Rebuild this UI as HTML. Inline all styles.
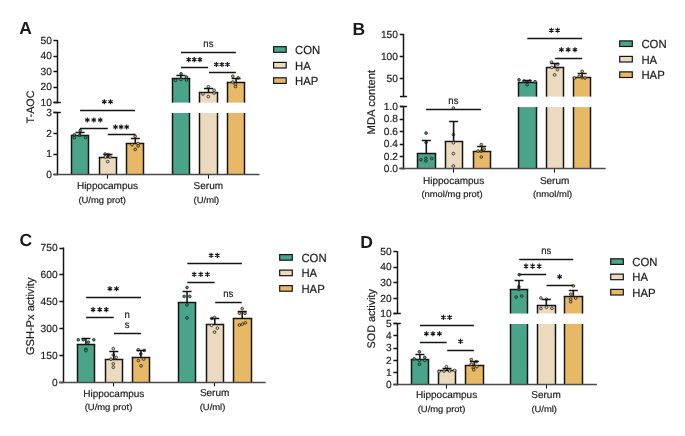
<!DOCTYPE html>
<html><head><meta charset="utf-8"><style>
html,body{margin:0;padding:0;background:#fff;}
body{width:685px;height:436px;overflow:hidden;}
svg{display:block;will-change:transform;text-rendering:geometricPrecision;font-family:"Liberation Sans", sans-serif;}
</style></head><body>
<svg width="685" height="436" viewBox="0 0 685 436">
<rect width="685" height="436" fill="#fff"/>
<text transform="translate(19.20,34.10)" font-size="17.5" text-anchor="start" font-weight="bold" fill="#1b1b1b" stroke="#1b1b1b" stroke-width="0">A</text>
<line x1="57.50" y1="39.90" x2="57.50" y2="103.30" stroke="#141414" stroke-width="1.5"/>
<line x1="53.70" y1="102.50" x2="60.80" y2="102.50" stroke="#141414" stroke-width="1.5"/>
<line x1="57.50" y1="112.10" x2="57.50" y2="175.30" stroke="#141414" stroke-width="1.5"/>
<line x1="53.70" y1="112.50" x2="60.80" y2="112.50" stroke="#141414" stroke-width="1.5"/>
<line x1="53.40" y1="40.50" x2="57.00" y2="40.50" stroke="#141414" stroke-width="1.5"/>
<line x1="53.40" y1="56.50" x2="57.00" y2="56.50" stroke="#141414" stroke-width="1.5"/>
<line x1="53.40" y1="71.50" x2="57.00" y2="71.50" stroke="#141414" stroke-width="1.5"/>
<line x1="53.40" y1="87.50" x2="57.00" y2="87.50" stroke="#141414" stroke-width="1.5"/>
<line x1="53.40" y1="102.50" x2="57.00" y2="102.50" stroke="#141414" stroke-width="1.5"/>
<line x1="53.40" y1="112.50" x2="57.00" y2="112.50" stroke="#141414" stroke-width="1.5"/>
<line x1="53.40" y1="133.50" x2="57.00" y2="133.50" stroke="#141414" stroke-width="1.5"/>
<line x1="53.40" y1="154.50" x2="57.00" y2="154.50" stroke="#141414" stroke-width="1.5"/>
<line x1="53.40" y1="174.50" x2="57.00" y2="174.50" stroke="#141414" stroke-width="1.5"/>
<text transform="translate(51.90,43.75) scale(0.99,1)" font-size="10.3" text-anchor="end" font-weight="normal" fill="#1b1b1b" stroke="#1b1b1b" stroke-width="0.18">50</text>
<text transform="translate(51.90,59.30) scale(0.99,1)" font-size="10.3" text-anchor="end" font-weight="normal" fill="#1b1b1b" stroke="#1b1b1b" stroke-width="0.18">40</text>
<text transform="translate(51.90,74.85) scale(0.99,1)" font-size="10.3" text-anchor="end" font-weight="normal" fill="#1b1b1b" stroke="#1b1b1b" stroke-width="0.18">30</text>
<text transform="translate(51.90,90.40) scale(0.99,1)" font-size="10.3" text-anchor="end" font-weight="normal" fill="#1b1b1b" stroke="#1b1b1b" stroke-width="0.18">20</text>
<text transform="translate(51.90,105.95) scale(0.99,1)" font-size="10.3" text-anchor="end" font-weight="normal" fill="#1b1b1b" stroke="#1b1b1b" stroke-width="0.18">10</text>
<text transform="translate(51.90,115.95) scale(0.99,1)" font-size="10.3" text-anchor="end" font-weight="normal" fill="#1b1b1b" stroke="#1b1b1b" stroke-width="0.18">3</text>
<text transform="translate(51.90,136.65) scale(0.99,1)" font-size="10.3" text-anchor="end" font-weight="normal" fill="#1b1b1b" stroke="#1b1b1b" stroke-width="0.18">2</text>
<text transform="translate(51.90,157.25) scale(0.99,1)" font-size="10.3" text-anchor="end" font-weight="normal" fill="#1b1b1b" stroke="#1b1b1b" stroke-width="0.18">1</text>
<text transform="translate(51.90,177.95) scale(0.99,1)" font-size="10.3" text-anchor="end" font-weight="normal" fill="#1b1b1b" stroke="#1b1b1b" stroke-width="0.18">0</text>
<line x1="107.50" y1="174.70" x2="107.50" y2="178.60" stroke="#141414" stroke-width="1.1"/>
<line x1="208.50" y1="174.70" x2="208.50" y2="178.60" stroke="#141414" stroke-width="1.1"/>
<rect x="71.50" y="135.50" width="17.00" height="39.00" fill="#4aa489"/>
<line x1="71.50" y1="135.50" x2="71.50" y2="174.50" stroke="#141414" stroke-width="1.5"/>
<line x1="88.50" y1="135.50" x2="88.50" y2="174.50" stroke="#141414" stroke-width="1.5"/>
<line x1="70.75" y1="135.50" x2="89.25" y2="135.50" stroke="#141414" stroke-width="1.5"/>
<circle cx="80.30" cy="130.40" r="1.35" fill="#409b7f" stroke="#1c1c1c" stroke-width="0.8"/>
<circle cx="74.40" cy="134.80" r="1.35" fill="#409b7f" stroke="#1c1c1c" stroke-width="0.8"/>
<circle cx="79.70" cy="135.30" r="1.35" fill="#409b7f" stroke="#1c1c1c" stroke-width="0.8"/>
<circle cx="74.40" cy="137.70" r="1.35" fill="#409b7f" stroke="#1c1c1c" stroke-width="0.8"/>
<circle cx="85.50" cy="137.70" r="1.35" fill="#409b7f" stroke="#1c1c1c" stroke-width="0.8"/>
<line x1="80.10" y1="135.50" x2="80.10" y2="132.40" stroke="#141414" stroke-width="1.6"/>
<line x1="75.60" y1="132.50" x2="84.60" y2="132.50" stroke="#141414" stroke-width="1.5"/>
<rect x="99.50" y="157.50" width="17.00" height="17.00" fill="#ebdabe"/>
<line x1="99.50" y1="157.50" x2="99.50" y2="174.50" stroke="#141414" stroke-width="1.5"/>
<line x1="116.50" y1="157.50" x2="116.50" y2="174.50" stroke="#141414" stroke-width="1.5"/>
<line x1="98.75" y1="157.50" x2="117.25" y2="157.50" stroke="#141414" stroke-width="1.5"/>
<circle cx="105.10" cy="154.00" r="1.35" fill="#ead8b8" stroke="#1c1c1c" stroke-width="0.8"/>
<circle cx="108.30" cy="154.60" r="1.35" fill="#ead8b8" stroke="#1c1c1c" stroke-width="0.8"/>
<circle cx="105.40" cy="157.00" r="1.35" fill="#ead8b8" stroke="#1c1c1c" stroke-width="0.8"/>
<circle cx="110.00" cy="157.00" r="1.35" fill="#ead8b8" stroke="#1c1c1c" stroke-width="0.8"/>
<circle cx="107.70" cy="161.60" r="1.35" fill="#ead8b8" stroke="#1c1c1c" stroke-width="0.8"/>
<line x1="108.00" y1="157.50" x2="108.00" y2="154.00" stroke="#141414" stroke-width="1.6"/>
<line x1="103.50" y1="154.50" x2="112.50" y2="154.50" stroke="#141414" stroke-width="1.5"/>
<rect x="126.50" y="143.50" width="17.00" height="31.00" fill="#e7b967"/>
<line x1="126.50" y1="143.50" x2="126.50" y2="174.50" stroke="#141414" stroke-width="1.5"/>
<line x1="143.50" y1="143.50" x2="143.50" y2="174.50" stroke="#141414" stroke-width="1.5"/>
<line x1="125.75" y1="143.50" x2="144.25" y2="143.50" stroke="#141414" stroke-width="1.5"/>
<circle cx="135.20" cy="136.30" r="1.35" fill="#e2b35c" stroke="#1c1c1c" stroke-width="0.8"/>
<circle cx="132.00" cy="144.70" r="1.35" fill="#e2b35c" stroke="#1c1c1c" stroke-width="0.8"/>
<circle cx="138.10" cy="143.50" r="1.35" fill="#e2b35c" stroke="#1c1c1c" stroke-width="0.8"/>
<circle cx="138.10" cy="145.90" r="1.35" fill="#e2b35c" stroke="#1c1c1c" stroke-width="0.8"/>
<circle cx="135.20" cy="149.40" r="1.35" fill="#e2b35c" stroke="#1c1c1c" stroke-width="0.8"/>
<line x1="135.30" y1="143.50" x2="135.30" y2="138.90" stroke="#141414" stroke-width="1.6"/>
<line x1="130.80" y1="138.50" x2="139.80" y2="138.50" stroke="#141414" stroke-width="1.5"/>
<rect x="172.50" y="78.50" width="17.00" height="24.10" fill="#4aa489"/>
<rect x="172.50" y="113.00" width="17.00" height="61.50" fill="#4aa489"/>
<line x1="172.50" y1="78.50" x2="172.50" y2="102.60" stroke="#141414" stroke-width="1.5"/>
<line x1="189.50" y1="78.50" x2="189.50" y2="102.60" stroke="#141414" stroke-width="1.5"/>
<line x1="172.50" y1="113.00" x2="172.50" y2="174.50" stroke="#141414" stroke-width="1.5"/>
<line x1="189.50" y1="113.00" x2="189.50" y2="174.50" stroke="#141414" stroke-width="1.5"/>
<line x1="171.75" y1="78.50" x2="190.25" y2="78.50" stroke="#141414" stroke-width="1.5"/>
<circle cx="181.10" cy="73.80" r="1.35" fill="#409b7f" stroke="#1c1c1c" stroke-width="0.8"/>
<circle cx="175.60" cy="80.30" r="1.35" fill="#409b7f" stroke="#1c1c1c" stroke-width="0.8"/>
<circle cx="180.90" cy="79.40" r="1.35" fill="#409b7f" stroke="#1c1c1c" stroke-width="0.8"/>
<circle cx="186.50" cy="77.10" r="1.35" fill="#409b7f" stroke="#1c1c1c" stroke-width="0.8"/>
<circle cx="186.50" cy="80.00" r="1.35" fill="#409b7f" stroke="#1c1c1c" stroke-width="0.8"/>
<line x1="180.90" y1="78.50" x2="180.90" y2="75.90" stroke="#141414" stroke-width="1.6"/>
<line x1="176.40" y1="75.50" x2="185.40" y2="75.50" stroke="#141414" stroke-width="1.5"/>
<rect x="199.50" y="92.50" width="18.00" height="10.10" fill="#ebdabe"/>
<rect x="199.50" y="113.00" width="18.00" height="61.50" fill="#ebdabe"/>
<line x1="199.50" y1="92.50" x2="199.50" y2="102.60" stroke="#141414" stroke-width="1.5"/>
<line x1="217.50" y1="92.50" x2="217.50" y2="102.60" stroke="#141414" stroke-width="1.5"/>
<line x1="199.50" y1="113.00" x2="199.50" y2="174.50" stroke="#141414" stroke-width="1.5"/>
<line x1="217.50" y1="113.00" x2="217.50" y2="174.50" stroke="#141414" stroke-width="1.5"/>
<line x1="198.75" y1="92.50" x2="218.25" y2="92.50" stroke="#141414" stroke-width="1.5"/>
<circle cx="208.30" cy="86.70" r="1.35" fill="#ead8b8" stroke="#1c1c1c" stroke-width="0.8"/>
<circle cx="214.10" cy="90.20" r="1.35" fill="#ead8b8" stroke="#1c1c1c" stroke-width="0.8"/>
<circle cx="203.00" cy="93.90" r="1.35" fill="#ead8b8" stroke="#1c1c1c" stroke-width="0.8"/>
<circle cx="214.10" cy="93.10" r="1.35" fill="#ead8b8" stroke="#1c1c1c" stroke-width="0.8"/>
<circle cx="208.30" cy="96.60" r="1.35" fill="#ead8b8" stroke="#1c1c1c" stroke-width="0.8"/>
<line x1="208.50" y1="92.50" x2="208.50" y2="88.80" stroke="#141414" stroke-width="1.6"/>
<line x1="204.00" y1="88.50" x2="213.00" y2="88.50" stroke="#141414" stroke-width="1.5"/>
<rect x="227.50" y="82.50" width="17.00" height="20.10" fill="#e7b967"/>
<rect x="227.50" y="113.00" width="17.00" height="61.50" fill="#e7b967"/>
<line x1="227.50" y1="82.50" x2="227.50" y2="102.60" stroke="#141414" stroke-width="1.5"/>
<line x1="244.50" y1="82.50" x2="244.50" y2="102.60" stroke="#141414" stroke-width="1.5"/>
<line x1="227.50" y1="113.00" x2="227.50" y2="174.50" stroke="#141414" stroke-width="1.5"/>
<line x1="244.50" y1="113.00" x2="244.50" y2="174.50" stroke="#141414" stroke-width="1.5"/>
<line x1="226.75" y1="82.50" x2="245.25" y2="82.50" stroke="#141414" stroke-width="1.5"/>
<circle cx="232.80" cy="76.20" r="1.35" fill="#e2b35c" stroke="#1c1c1c" stroke-width="0.8"/>
<circle cx="238.10" cy="77.90" r="1.35" fill="#e2b35c" stroke="#1c1c1c" stroke-width="0.8"/>
<circle cx="232.80" cy="82.00" r="1.35" fill="#e2b35c" stroke="#1c1c1c" stroke-width="0.8"/>
<circle cx="235.50" cy="84.40" r="1.35" fill="#e2b35c" stroke="#1c1c1c" stroke-width="0.8"/>
<circle cx="235.50" cy="86.50" r="1.35" fill="#e2b35c" stroke="#1c1c1c" stroke-width="0.8"/>
<line x1="236.10" y1="82.50" x2="236.10" y2="78.30" stroke="#141414" stroke-width="1.6"/>
<line x1="231.60" y1="78.50" x2="240.60" y2="78.50" stroke="#141414" stroke-width="1.5"/>
<line x1="53.30" y1="174.50" x2="259.50" y2="174.50" stroke="#4a4a4a" stroke-width="1.6"/>
<line x1="80.10" y1="110.50" x2="135.10" y2="110.50" stroke="#141414" stroke-width="1.5"/>
<path d="M104.30,99.25L104.30,104.35M102.09,100.52L106.51,103.08M106.51,100.52L102.09,103.08" stroke="#141414" stroke-width="1.15" fill="none"/>
<path d="M110.50,99.25L110.50,104.35M108.29,100.52L112.71,103.08M112.71,100.52L108.29,103.08" stroke="#141414" stroke-width="1.15" fill="none"/>
<line x1="79.90" y1="128.50" x2="107.80" y2="128.50" stroke="#141414" stroke-width="1.5"/>
<path d="M87.35,117.45L87.35,122.55M85.14,118.72L89.56,121.28M89.56,118.72L85.14,121.28" stroke="#141414" stroke-width="1.15" fill="none"/>
<path d="M93.80,117.45L93.80,122.55M91.59,118.72L96.01,121.28M96.01,118.72L91.59,121.28" stroke="#141414" stroke-width="1.15" fill="none"/>
<path d="M100.25,117.45L100.25,122.55M98.04,118.72L102.46,121.28M102.46,118.72L98.04,121.28" stroke="#141414" stroke-width="1.15" fill="none"/>
<line x1="107.80" y1="134.50" x2="135.60" y2="134.50" stroke="#141414" stroke-width="1.5"/>
<path d="M115.50,124.45L115.50,129.55M113.29,125.72L117.71,128.28M117.71,125.72L113.29,128.28" stroke="#141414" stroke-width="1.15" fill="none"/>
<path d="M121.10,124.45L121.10,129.55M118.89,125.72L123.31,128.28M123.31,125.72L118.89,128.28" stroke="#141414" stroke-width="1.15" fill="none"/>
<path d="M126.70,124.45L126.70,129.55M124.49,125.72L128.91,128.28M128.91,125.72L124.49,128.28" stroke="#141414" stroke-width="1.15" fill="none"/>
<line x1="181.00" y1="52.50" x2="235.90" y2="52.50" stroke="#141414" stroke-width="1.5"/>
<text transform="translate(208.40,46.90) scale(0.93,1)" font-size="10.3" text-anchor="middle" font-weight="normal" fill="#1b1b1b" stroke="#1b1b1b" stroke-width="0.18">ns</text>
<line x1="181.00" y1="67.50" x2="208.10" y2="67.50" stroke="#141414" stroke-width="1.5"/>
<path d="M188.70,57.05L188.70,62.15M186.49,58.33L190.91,60.88M190.91,58.33L186.49,60.88" stroke="#141414" stroke-width="1.15" fill="none"/>
<path d="M194.30,57.05L194.30,62.15M192.09,58.33L196.51,60.88M196.51,58.33L192.09,60.88" stroke="#141414" stroke-width="1.15" fill="none"/>
<path d="M199.90,57.05L199.90,62.15M197.69,58.33L202.11,60.88M202.11,58.33L197.69,60.88" stroke="#141414" stroke-width="1.15" fill="none"/>
<line x1="209.00" y1="72.50" x2="235.90" y2="72.50" stroke="#141414" stroke-width="1.5"/>
<path d="M216.30,61.95L216.30,67.05M214.09,63.23L218.51,65.78M218.51,63.23L214.09,65.78" stroke="#141414" stroke-width="1.15" fill="none"/>
<path d="M221.90,61.95L221.90,67.05M219.69,63.23L224.11,65.78M224.11,63.23L219.69,65.78" stroke="#141414" stroke-width="1.15" fill="none"/>
<path d="M227.50,61.95L227.50,67.05M225.29,63.23L229.71,65.78M229.71,63.23L225.29,65.78" stroke="#141414" stroke-width="1.15" fill="none"/>
<rect x="273.60" y="46.70" width="12.6" height="5.6" fill="#4aa489" stroke="#141414" stroke-width="1.2"/>
<text transform="translate(295.00,53.90) scale(0.97,1)" font-size="11.7" text-anchor="start" font-weight="normal" fill="#1b1b1b" stroke="#1b1b1b" stroke-width="0.18">CON</text>
<rect x="273.60" y="62.40" width="12.6" height="5.6" fill="#ebdabe" stroke="#141414" stroke-width="1.2"/>
<text transform="translate(295.00,69.60) scale(0.97,1)" font-size="11.7" text-anchor="start" font-weight="normal" fill="#1b1b1b" stroke="#1b1b1b" stroke-width="0.18">HA</text>
<rect x="273.60" y="77.80" width="12.6" height="5.6" fill="#e7b967" stroke="#141414" stroke-width="1.2"/>
<text transform="translate(295.00,85.00) scale(0.97,1)" font-size="11.7" text-anchor="start" font-weight="normal" fill="#1b1b1b" stroke="#1b1b1b" stroke-width="0.18">HAP</text>
<text transform="translate(107.50,189.10)" font-size="10.0" text-anchor="middle" font-weight="normal" fill="#1b1b1b" stroke="#1b1b1b" stroke-width="0.18">Hippocampus</text>
<text transform="translate(102.20,202.50) scale(1.07,1)" font-size="8.8" text-anchor="middle" font-weight="normal" fill="#1b1b1b" stroke="#1b1b1b" stroke-width="0.18">(U/mg prot)</text>
<text transform="translate(208.30,189.10)" font-size="10.0" text-anchor="middle" font-weight="normal" fill="#1b1b1b" stroke="#1b1b1b" stroke-width="0.18">Serum</text>
<text transform="translate(206.40,202.50) scale(1.07,1)" font-size="8.8" text-anchor="middle" font-weight="normal" fill="#1b1b1b" stroke="#1b1b1b" stroke-width="0.18">(U/ml)</text>
<text transform="translate(34.40,107.00) rotate(-90)" font-size="10.75" text-anchor="middle" font-weight="normal" fill="#1b1b1b" stroke="#1b1b1b" stroke-width="0.18">T-AOC</text>
<text transform="translate(352.60,34.50)" font-size="17.5" text-anchor="start" font-weight="bold" fill="#1b1b1b" stroke="#1b1b1b" stroke-width="0">B</text>
<line x1="403.50" y1="33.80" x2="403.50" y2="97.20" stroke="#141414" stroke-width="1.5"/>
<line x1="400.00" y1="96.50" x2="407.10" y2="96.50" stroke="#141414" stroke-width="1.5"/>
<line x1="403.50" y1="106.00" x2="403.50" y2="169.50" stroke="#141414" stroke-width="1.5"/>
<line x1="400.00" y1="106.50" x2="407.10" y2="106.50" stroke="#141414" stroke-width="1.5"/>
<line x1="399.70" y1="34.50" x2="403.30" y2="34.50" stroke="#141414" stroke-width="1.5"/>
<line x1="399.70" y1="56.50" x2="403.30" y2="56.50" stroke="#141414" stroke-width="1.5"/>
<line x1="399.70" y1="78.50" x2="403.30" y2="78.50" stroke="#141414" stroke-width="1.5"/>
<line x1="399.70" y1="106.50" x2="403.30" y2="106.50" stroke="#141414" stroke-width="1.5"/>
<line x1="399.70" y1="119.50" x2="403.30" y2="119.50" stroke="#141414" stroke-width="1.5"/>
<line x1="399.70" y1="131.50" x2="403.30" y2="131.50" stroke="#141414" stroke-width="1.5"/>
<line x1="399.70" y1="144.50" x2="403.30" y2="144.50" stroke="#141414" stroke-width="1.5"/>
<line x1="399.70" y1="156.50" x2="403.30" y2="156.50" stroke="#141414" stroke-width="1.5"/>
<line x1="399.70" y1="168.50" x2="403.30" y2="168.50" stroke="#141414" stroke-width="1.5"/>
<text transform="translate(397.90,37.65) scale(0.99,1)" font-size="10.3" text-anchor="end" font-weight="normal" fill="#1b1b1b" stroke="#1b1b1b" stroke-width="0.18">150</text>
<text transform="translate(397.90,59.85) scale(0.99,1)" font-size="10.3" text-anchor="end" font-weight="normal" fill="#1b1b1b" stroke="#1b1b1b" stroke-width="0.18">100</text>
<text transform="translate(397.90,82.05) scale(0.99,1)" font-size="10.3" text-anchor="end" font-weight="normal" fill="#1b1b1b" stroke="#1b1b1b" stroke-width="0.18">50</text>
<text transform="translate(397.90,109.85) scale(0.99,1)" font-size="10.3" text-anchor="end" font-weight="normal" fill="#1b1b1b" stroke="#1b1b1b" stroke-width="0.18">1.0</text>
<text transform="translate(397.90,122.35) scale(0.99,1)" font-size="10.3" text-anchor="end" font-weight="normal" fill="#1b1b1b" stroke="#1b1b1b" stroke-width="0.18">0.8</text>
<text transform="translate(397.90,134.75) scale(0.99,1)" font-size="10.3" text-anchor="end" font-weight="normal" fill="#1b1b1b" stroke="#1b1b1b" stroke-width="0.18">0.6</text>
<text transform="translate(397.90,147.25) scale(0.99,1)" font-size="10.3" text-anchor="end" font-weight="normal" fill="#1b1b1b" stroke="#1b1b1b" stroke-width="0.18">0.4</text>
<text transform="translate(397.90,159.65) scale(0.99,1)" font-size="10.3" text-anchor="end" font-weight="normal" fill="#1b1b1b" stroke="#1b1b1b" stroke-width="0.18">0.2</text>
<text transform="translate(397.90,172.15) scale(0.99,1)" font-size="10.3" text-anchor="end" font-weight="normal" fill="#1b1b1b" stroke="#1b1b1b" stroke-width="0.18">0.0</text>
<line x1="453.50" y1="168.90" x2="453.50" y2="172.60" stroke="#141414" stroke-width="1.1"/>
<line x1="554.50" y1="168.90" x2="554.50" y2="172.60" stroke="#141414" stroke-width="1.1"/>
<rect x="417.50" y="153.50" width="18.00" height="15.00" fill="#4aa489"/>
<line x1="417.50" y1="153.50" x2="417.50" y2="168.50" stroke="#141414" stroke-width="1.5"/>
<line x1="435.50" y1="153.50" x2="435.50" y2="168.50" stroke="#141414" stroke-width="1.5"/>
<line x1="416.75" y1="153.50" x2="436.25" y2="153.50" stroke="#141414" stroke-width="1.5"/>
<circle cx="426.10" cy="133.10" r="1.35" fill="#409b7f" stroke="#1c1c1c" stroke-width="0.8"/>
<circle cx="426.10" cy="142.40" r="1.35" fill="#409b7f" stroke="#1c1c1c" stroke-width="0.8"/>
<circle cx="420.90" cy="159.80" r="1.35" fill="#409b7f" stroke="#1c1c1c" stroke-width="0.8"/>
<circle cx="425.90" cy="158.30" r="1.35" fill="#409b7f" stroke="#1c1c1c" stroke-width="0.8"/>
<circle cx="425.90" cy="161.00" r="1.35" fill="#409b7f" stroke="#1c1c1c" stroke-width="0.8"/>
<circle cx="431.70" cy="158.50" r="1.35" fill="#409b7f" stroke="#1c1c1c" stroke-width="0.8"/>
<line x1="426.30" y1="153.50" x2="426.30" y2="140.60" stroke="#141414" stroke-width="1.6"/>
<line x1="421.80" y1="140.50" x2="430.80" y2="140.50" stroke="#141414" stroke-width="1.5"/>
<rect x="445.50" y="141.50" width="17.00" height="27.00" fill="#ebdabe"/>
<line x1="445.50" y1="141.50" x2="445.50" y2="168.50" stroke="#141414" stroke-width="1.5"/>
<line x1="462.50" y1="141.50" x2="462.50" y2="168.50" stroke="#141414" stroke-width="1.5"/>
<line x1="444.75" y1="141.50" x2="463.25" y2="141.50" stroke="#141414" stroke-width="1.5"/>
<circle cx="453.40" cy="108.00" r="1.35" fill="#ead8b8" stroke="#1c1c1c" stroke-width="0.8"/>
<circle cx="453.40" cy="134.70" r="1.35" fill="#ead8b8" stroke="#1c1c1c" stroke-width="0.8"/>
<circle cx="453.40" cy="142.80" r="1.35" fill="#ead8b8" stroke="#1c1c1c" stroke-width="0.8"/>
<circle cx="453.40" cy="153.60" r="1.35" fill="#ead8b8" stroke="#1c1c1c" stroke-width="0.8"/>
<circle cx="453.40" cy="166.00" r="1.35" fill="#ead8b8" stroke="#1c1c1c" stroke-width="0.8"/>
<line x1="453.60" y1="141.50" x2="453.60" y2="121.40" stroke="#141414" stroke-width="1.6"/>
<line x1="449.10" y1="121.50" x2="458.10" y2="121.50" stroke="#141414" stroke-width="1.5"/>
<rect x="473.50" y="151.50" width="17.00" height="17.00" fill="#e7b967"/>
<line x1="473.50" y1="151.50" x2="473.50" y2="168.50" stroke="#141414" stroke-width="1.5"/>
<line x1="490.50" y1="151.50" x2="490.50" y2="168.50" stroke="#141414" stroke-width="1.5"/>
<line x1="472.75" y1="151.50" x2="491.25" y2="151.50" stroke="#141414" stroke-width="1.5"/>
<circle cx="481.30" cy="144.60" r="1.35" fill="#e2b35c" stroke="#1c1c1c" stroke-width="0.8"/>
<circle cx="478.00" cy="151.10" r="1.35" fill="#e2b35c" stroke="#1c1c1c" stroke-width="0.8"/>
<circle cx="481.30" cy="151.10" r="1.35" fill="#e2b35c" stroke="#1c1c1c" stroke-width="0.8"/>
<circle cx="484.20" cy="149.20" r="1.35" fill="#e2b35c" stroke="#1c1c1c" stroke-width="0.8"/>
<circle cx="481.30" cy="157.00" r="1.35" fill="#e2b35c" stroke="#1c1c1c" stroke-width="0.8"/>
<line x1="481.70" y1="151.50" x2="481.70" y2="146.70" stroke="#141414" stroke-width="1.6"/>
<line x1="477.20" y1="146.50" x2="486.20" y2="146.50" stroke="#141414" stroke-width="1.5"/>
<rect x="518.50" y="82.50" width="18.00" height="14.10" fill="#4aa489"/>
<rect x="518.50" y="107.10" width="18.00" height="61.40" fill="#4aa489"/>
<line x1="518.50" y1="82.50" x2="518.50" y2="96.60" stroke="#141414" stroke-width="1.5"/>
<line x1="536.50" y1="82.50" x2="536.50" y2="96.60" stroke="#141414" stroke-width="1.5"/>
<line x1="518.50" y1="107.10" x2="518.50" y2="168.50" stroke="#141414" stroke-width="1.5"/>
<line x1="536.50" y1="107.10" x2="536.50" y2="168.50" stroke="#141414" stroke-width="1.5"/>
<line x1="517.75" y1="82.50" x2="537.25" y2="82.50" stroke="#141414" stroke-width="1.5"/>
<circle cx="519.00" cy="79.80" r="1.35" fill="#409b7f" stroke="#1c1c1c" stroke-width="0.8"/>
<circle cx="535.10" cy="81.70" r="1.35" fill="#409b7f" stroke="#1c1c1c" stroke-width="0.8"/>
<circle cx="527.10" cy="84.80" r="1.35" fill="#409b7f" stroke="#1c1c1c" stroke-width="0.8"/>
<circle cx="524.20" cy="81.00" r="1.35" fill="#409b7f" stroke="#1c1c1c" stroke-width="0.8"/>
<circle cx="529.80" cy="81.00" r="1.35" fill="#409b7f" stroke="#1c1c1c" stroke-width="0.8"/>
<line x1="527.10" y1="82.50" x2="527.10" y2="80.20" stroke="#141414" stroke-width="1.6"/>
<line x1="522.60" y1="80.50" x2="531.60" y2="80.50" stroke="#141414" stroke-width="1.5"/>
<rect x="546.50" y="67.50" width="17.00" height="29.10" fill="#ebdabe"/>
<rect x="546.50" y="107.10" width="17.00" height="61.40" fill="#ebdabe"/>
<line x1="546.50" y1="67.50" x2="546.50" y2="96.60" stroke="#141414" stroke-width="1.5"/>
<line x1="563.50" y1="67.50" x2="563.50" y2="96.60" stroke="#141414" stroke-width="1.5"/>
<line x1="546.50" y1="107.10" x2="546.50" y2="168.50" stroke="#141414" stroke-width="1.5"/>
<line x1="563.50" y1="107.10" x2="563.50" y2="168.50" stroke="#141414" stroke-width="1.5"/>
<line x1="545.75" y1="67.50" x2="564.25" y2="67.50" stroke="#141414" stroke-width="1.5"/>
<circle cx="551.50" cy="62.10" r="1.35" fill="#ead8b8" stroke="#1c1c1c" stroke-width="0.8"/>
<circle cx="557.70" cy="64.30" r="1.35" fill="#ead8b8" stroke="#1c1c1c" stroke-width="0.8"/>
<circle cx="551.90" cy="67.40" r="1.35" fill="#ead8b8" stroke="#1c1c1c" stroke-width="0.8"/>
<circle cx="557.40" cy="69.60" r="1.35" fill="#ead8b8" stroke="#1c1c1c" stroke-width="0.8"/>
<circle cx="554.60" cy="74.90" r="1.35" fill="#ead8b8" stroke="#1c1c1c" stroke-width="0.8"/>
<line x1="554.80" y1="67.50" x2="554.80" y2="63.10" stroke="#141414" stroke-width="1.6"/>
<line x1="550.30" y1="63.50" x2="559.30" y2="63.50" stroke="#141414" stroke-width="1.5"/>
<rect x="573.50" y="77.50" width="17.00" height="19.10" fill="#e7b967"/>
<rect x="573.50" y="107.10" width="17.00" height="61.40" fill="#e7b967"/>
<line x1="573.50" y1="77.50" x2="573.50" y2="96.60" stroke="#141414" stroke-width="1.5"/>
<line x1="590.50" y1="77.50" x2="590.50" y2="96.60" stroke="#141414" stroke-width="1.5"/>
<line x1="573.50" y1="107.10" x2="573.50" y2="168.50" stroke="#141414" stroke-width="1.5"/>
<line x1="590.50" y1="107.10" x2="590.50" y2="168.50" stroke="#141414" stroke-width="1.5"/>
<line x1="572.75" y1="77.50" x2="591.25" y2="77.50" stroke="#141414" stroke-width="1.5"/>
<circle cx="582.20" cy="71.40" r="1.35" fill="#e2b35c" stroke="#1c1c1c" stroke-width="0.8"/>
<circle cx="574.50" cy="78.00" r="1.35" fill="#e2b35c" stroke="#1c1c1c" stroke-width="0.8"/>
<circle cx="579.20" cy="76.30" r="1.35" fill="#e2b35c" stroke="#1c1c1c" stroke-width="0.8"/>
<circle cx="582.20" cy="77.60" r="1.35" fill="#e2b35c" stroke="#1c1c1c" stroke-width="0.8"/>
<circle cx="585.00" cy="78.00" r="1.35" fill="#e2b35c" stroke="#1c1c1c" stroke-width="0.8"/>
<line x1="582.10" y1="77.50" x2="582.10" y2="73.90" stroke="#141414" stroke-width="1.6"/>
<line x1="577.60" y1="73.50" x2="586.60" y2="73.50" stroke="#141414" stroke-width="1.5"/>
<line x1="399.30" y1="168.50" x2="605.70" y2="168.50" stroke="#4a4a4a" stroke-width="1.6"/>
<line x1="426.10" y1="109.50" x2="481.00" y2="109.50" stroke="#141414" stroke-width="1.5"/>
<text transform="translate(453.40,103.90) scale(0.93,1)" font-size="10.3" text-anchor="middle" font-weight="normal" fill="#1b1b1b" stroke="#1b1b1b" stroke-width="0.18">ns</text>
<line x1="527.30" y1="38.50" x2="582.20" y2="38.50" stroke="#141414" stroke-width="1.5"/>
<path d="M551.40,27.65L551.40,32.75M549.19,28.93L553.61,31.47M553.61,28.93L549.19,31.47" stroke="#141414" stroke-width="1.15" fill="none"/>
<path d="M557.60,27.65L557.60,32.75M555.39,28.93L559.81,31.47M559.81,28.93L555.39,31.47" stroke="#141414" stroke-width="1.15" fill="none"/>
<line x1="555.20" y1="58.50" x2="582.20" y2="58.50" stroke="#141414" stroke-width="1.5"/>
<path d="M561.45,47.15L561.45,52.25M559.24,48.43L563.66,50.98M563.66,48.43L559.24,50.98" stroke="#141414" stroke-width="1.15" fill="none"/>
<path d="M568.20,47.15L568.20,52.25M565.99,48.43L570.41,50.98M570.41,48.43L565.99,50.98" stroke="#141414" stroke-width="1.15" fill="none"/>
<path d="M574.95,47.15L574.95,52.25M572.74,48.43L577.16,50.98M577.16,48.43L572.74,50.98" stroke="#141414" stroke-width="1.15" fill="none"/>
<rect x="619.70" y="40.90" width="12.6" height="5.6" fill="#4aa489" stroke="#141414" stroke-width="1.2"/>
<text transform="translate(641.40,48.10) scale(0.97,1)" font-size="11.7" text-anchor="start" font-weight="normal" fill="#1b1b1b" stroke="#1b1b1b" stroke-width="0.18">CON</text>
<rect x="619.70" y="56.40" width="12.6" height="5.6" fill="#ebdabe" stroke="#141414" stroke-width="1.2"/>
<text transform="translate(641.40,63.60) scale(0.97,1)" font-size="11.7" text-anchor="start" font-weight="normal" fill="#1b1b1b" stroke="#1b1b1b" stroke-width="0.18">HA</text>
<rect x="619.70" y="71.90" width="12.6" height="5.6" fill="#e7b967" stroke="#141414" stroke-width="1.2"/>
<text transform="translate(641.40,79.10) scale(0.97,1)" font-size="11.7" text-anchor="start" font-weight="normal" fill="#1b1b1b" stroke="#1b1b1b" stroke-width="0.18">HAP</text>
<text transform="translate(453.60,183.50)" font-size="10.0" text-anchor="middle" font-weight="normal" fill="#1b1b1b" stroke="#1b1b1b" stroke-width="0.18">Hippocampus</text>
<text transform="translate(452.00,196.50) scale(1.07,1)" font-size="8.8" text-anchor="middle" font-weight="normal" fill="#1b1b1b" stroke="#1b1b1b" stroke-width="0.18">(nmol/mg prot)</text>
<text transform="translate(554.60,183.50)" font-size="10.0" text-anchor="middle" font-weight="normal" fill="#1b1b1b" stroke="#1b1b1b" stroke-width="0.18">Serum</text>
<text transform="translate(552.50,196.50) scale(1.07,1)" font-size="8.8" text-anchor="middle" font-weight="normal" fill="#1b1b1b" stroke="#1b1b1b" stroke-width="0.18">(nmol/ml)</text>
<text transform="translate(375.00,102.10) rotate(-90) scale(1.01,1)" font-size="11.2" text-anchor="middle" font-weight="normal" fill="#1b1b1b" stroke="#1b1b1b" stroke-width="0.18">MDA content</text>
<text transform="translate(19.40,245.50)" font-size="17.5" text-anchor="start" font-weight="bold" fill="#1b1b1b" stroke="#1b1b1b" stroke-width="0">C</text>
<line x1="63.50" y1="247.40" x2="63.50" y2="383.10" stroke="#141414" stroke-width="1.5"/>
<line x1="59.40" y1="248.50" x2="63.00" y2="248.50" stroke="#141414" stroke-width="1.5"/>
<line x1="59.40" y1="274.50" x2="63.00" y2="274.50" stroke="#141414" stroke-width="1.5"/>
<line x1="59.40" y1="301.50" x2="63.00" y2="301.50" stroke="#141414" stroke-width="1.5"/>
<line x1="59.40" y1="328.50" x2="63.00" y2="328.50" stroke="#141414" stroke-width="1.5"/>
<line x1="59.40" y1="355.50" x2="63.00" y2="355.50" stroke="#141414" stroke-width="1.5"/>
<line x1="59.40" y1="382.50" x2="63.00" y2="382.50" stroke="#141414" stroke-width="1.5"/>
<text transform="translate(57.60,251.25) scale(0.99,1)" font-size="10.3" text-anchor="end" font-weight="normal" fill="#1b1b1b" stroke="#1b1b1b" stroke-width="0.18">750</text>
<text transform="translate(57.60,278.15) scale(0.99,1)" font-size="10.3" text-anchor="end" font-weight="normal" fill="#1b1b1b" stroke="#1b1b1b" stroke-width="0.18">600</text>
<text transform="translate(57.60,305.05) scale(0.99,1)" font-size="10.3" text-anchor="end" font-weight="normal" fill="#1b1b1b" stroke="#1b1b1b" stroke-width="0.18">450</text>
<text transform="translate(57.60,331.95) scale(0.99,1)" font-size="10.3" text-anchor="end" font-weight="normal" fill="#1b1b1b" stroke="#1b1b1b" stroke-width="0.18">300</text>
<text transform="translate(57.60,358.85) scale(0.99,1)" font-size="10.3" text-anchor="end" font-weight="normal" fill="#1b1b1b" stroke="#1b1b1b" stroke-width="0.18">150</text>
<text transform="translate(57.60,385.75) scale(0.99,1)" font-size="10.3" text-anchor="end" font-weight="normal" fill="#1b1b1b" stroke="#1b1b1b" stroke-width="0.18">0</text>
<line x1="113.50" y1="382.50" x2="113.50" y2="386.30" stroke="#141414" stroke-width="1.1"/>
<line x1="214.50" y1="382.50" x2="214.50" y2="386.30" stroke="#141414" stroke-width="1.1"/>
<rect x="77.50" y="344.50" width="17.00" height="38.00" fill="#4aa489"/>
<line x1="77.50" y1="344.50" x2="77.50" y2="382.50" stroke="#141414" stroke-width="1.5"/>
<line x1="94.50" y1="344.50" x2="94.50" y2="382.50" stroke="#141414" stroke-width="1.5"/>
<line x1="76.75" y1="344.50" x2="95.25" y2="344.50" stroke="#141414" stroke-width="1.5"/>
<circle cx="78.30" cy="339.80" r="1.35" fill="#409b7f" stroke="#1c1c1c" stroke-width="0.8"/>
<circle cx="83.30" cy="339.80" r="1.35" fill="#409b7f" stroke="#1c1c1c" stroke-width="0.8"/>
<circle cx="88.40" cy="342.20" r="1.35" fill="#409b7f" stroke="#1c1c1c" stroke-width="0.8"/>
<circle cx="93.80" cy="339.80" r="1.35" fill="#409b7f" stroke="#1c1c1c" stroke-width="0.8"/>
<circle cx="85.90" cy="349.20" r="1.35" fill="#409b7f" stroke="#1c1c1c" stroke-width="0.8"/>
<circle cx="85.90" cy="350.60" r="1.35" fill="#409b7f" stroke="#1c1c1c" stroke-width="0.8"/>
<line x1="85.90" y1="344.50" x2="85.90" y2="338.90" stroke="#141414" stroke-width="1.6"/>
<line x1="81.40" y1="338.50" x2="90.40" y2="338.50" stroke="#141414" stroke-width="1.5"/>
<rect x="105.50" y="359.50" width="17.00" height="23.00" fill="#ebdabe"/>
<line x1="105.50" y1="359.50" x2="105.50" y2="382.50" stroke="#141414" stroke-width="1.5"/>
<line x1="122.50" y1="359.50" x2="122.50" y2="382.50" stroke="#141414" stroke-width="1.5"/>
<line x1="104.75" y1="359.50" x2="123.25" y2="359.50" stroke="#141414" stroke-width="1.5"/>
<circle cx="113.30" cy="348.60" r="1.35" fill="#ead8b8" stroke="#1c1c1c" stroke-width="0.8"/>
<circle cx="113.30" cy="355.00" r="1.35" fill="#ead8b8" stroke="#1c1c1c" stroke-width="0.8"/>
<circle cx="116.20" cy="357.40" r="1.35" fill="#ead8b8" stroke="#1c1c1c" stroke-width="0.8"/>
<circle cx="111.00" cy="359.10" r="1.35" fill="#ead8b8" stroke="#1c1c1c" stroke-width="0.8"/>
<circle cx="113.30" cy="363.80" r="1.35" fill="#ead8b8" stroke="#1c1c1c" stroke-width="0.8"/>
<circle cx="113.30" cy="367.30" r="1.35" fill="#ead8b8" stroke="#1c1c1c" stroke-width="0.8"/>
<line x1="113.80" y1="359.50" x2="113.80" y2="351.80" stroke="#141414" stroke-width="1.6"/>
<line x1="109.30" y1="351.50" x2="118.30" y2="351.50" stroke="#141414" stroke-width="1.5"/>
<rect x="132.50" y="357.50" width="17.00" height="25.00" fill="#e7b967"/>
<line x1="132.50" y1="357.50" x2="132.50" y2="382.50" stroke="#141414" stroke-width="1.5"/>
<line x1="149.50" y1="357.50" x2="149.50" y2="382.50" stroke="#141414" stroke-width="1.5"/>
<line x1="131.75" y1="357.50" x2="150.25" y2="357.50" stroke="#141414" stroke-width="1.5"/>
<circle cx="138.40" cy="349.80" r="1.35" fill="#e2b35c" stroke="#1c1c1c" stroke-width="0.8"/>
<circle cx="144.30" cy="350.40" r="1.35" fill="#e2b35c" stroke="#1c1c1c" stroke-width="0.8"/>
<circle cx="140.80" cy="353.90" r="1.35" fill="#e2b35c" stroke="#1c1c1c" stroke-width="0.8"/>
<circle cx="143.70" cy="359.10" r="1.35" fill="#e2b35c" stroke="#1c1c1c" stroke-width="0.8"/>
<circle cx="138.40" cy="360.60" r="1.35" fill="#e2b35c" stroke="#1c1c1c" stroke-width="0.8"/>
<circle cx="141.10" cy="365.80" r="1.35" fill="#e2b35c" stroke="#1c1c1c" stroke-width="0.8"/>
<line x1="140.90" y1="357.50" x2="140.90" y2="350.40" stroke="#141414" stroke-width="1.6"/>
<line x1="136.40" y1="350.50" x2="145.40" y2="350.50" stroke="#141414" stroke-width="1.5"/>
<rect x="178.50" y="302.50" width="17.00" height="80.00" fill="#4aa489"/>
<line x1="178.50" y1="302.50" x2="178.50" y2="382.50" stroke="#141414" stroke-width="1.5"/>
<line x1="195.50" y1="302.50" x2="195.50" y2="382.50" stroke="#141414" stroke-width="1.5"/>
<line x1="177.75" y1="302.50" x2="196.25" y2="302.50" stroke="#141414" stroke-width="1.5"/>
<circle cx="187.00" cy="287.50" r="1.35" fill="#409b7f" stroke="#1c1c1c" stroke-width="0.8"/>
<circle cx="184.20" cy="296.40" r="1.35" fill="#409b7f" stroke="#1c1c1c" stroke-width="0.8"/>
<circle cx="189.80" cy="296.40" r="1.35" fill="#409b7f" stroke="#1c1c1c" stroke-width="0.8"/>
<circle cx="187.00" cy="304.90" r="1.35" fill="#409b7f" stroke="#1c1c1c" stroke-width="0.8"/>
<circle cx="187.00" cy="317.90" r="1.35" fill="#409b7f" stroke="#1c1c1c" stroke-width="0.8"/>
<line x1="187.05" y1="302.50" x2="187.05" y2="291.30" stroke="#141414" stroke-width="1.6"/>
<line x1="182.55" y1="291.50" x2="191.55" y2="291.50" stroke="#141414" stroke-width="1.5"/>
<rect x="206.50" y="324.50" width="17.00" height="58.00" fill="#ebdabe"/>
<line x1="206.50" y1="324.50" x2="206.50" y2="382.50" stroke="#141414" stroke-width="1.5"/>
<line x1="223.50" y1="324.50" x2="223.50" y2="382.50" stroke="#141414" stroke-width="1.5"/>
<line x1="205.75" y1="324.50" x2="224.25" y2="324.50" stroke="#141414" stroke-width="1.5"/>
<circle cx="211.50" cy="325.30" r="1.35" fill="#ead8b8" stroke="#1c1c1c" stroke-width="0.8"/>
<circle cx="217.40" cy="328.20" r="1.35" fill="#ead8b8" stroke="#1c1c1c" stroke-width="0.8"/>
<circle cx="214.60" cy="332.10" r="1.35" fill="#ead8b8" stroke="#1c1c1c" stroke-width="0.8"/>
<circle cx="211.90" cy="318.50" r="1.35" fill="#ead8b8" stroke="#1c1c1c" stroke-width="0.8"/>
<circle cx="214.60" cy="317.50" r="1.35" fill="#ead8b8" stroke="#1c1c1c" stroke-width="0.8"/>
<line x1="214.80" y1="324.50" x2="214.80" y2="318.50" stroke="#141414" stroke-width="1.6"/>
<line x1="210.30" y1="318.50" x2="219.30" y2="318.50" stroke="#141414" stroke-width="1.5"/>
<rect x="233.50" y="318.50" width="18.00" height="64.00" fill="#e7b967"/>
<line x1="233.50" y1="318.50" x2="233.50" y2="382.50" stroke="#141414" stroke-width="1.5"/>
<line x1="251.50" y1="318.50" x2="251.50" y2="382.50" stroke="#141414" stroke-width="1.5"/>
<line x1="232.75" y1="318.50" x2="252.25" y2="318.50" stroke="#141414" stroke-width="1.5"/>
<circle cx="242.20" cy="308.60" r="1.35" fill="#e2b35c" stroke="#1c1c1c" stroke-width="0.8"/>
<circle cx="239.40" cy="313.30" r="1.35" fill="#e2b35c" stroke="#1c1c1c" stroke-width="0.8"/>
<circle cx="245.00" cy="313.30" r="1.35" fill="#e2b35c" stroke="#1c1c1c" stroke-width="0.8"/>
<circle cx="239.40" cy="325.00" r="1.35" fill="#e2b35c" stroke="#1c1c1c" stroke-width="0.8"/>
<circle cx="242.50" cy="324.10" r="1.35" fill="#e2b35c" stroke="#1c1c1c" stroke-width="0.8"/>
<circle cx="245.40" cy="322.80" r="1.35" fill="#e2b35c" stroke="#1c1c1c" stroke-width="0.8"/>
<line x1="242.20" y1="318.50" x2="242.20" y2="311.00" stroke="#141414" stroke-width="1.6"/>
<line x1="237.70" y1="311.50" x2="246.70" y2="311.50" stroke="#141414" stroke-width="1.5"/>
<line x1="59.20" y1="382.50" x2="265.70" y2="382.50" stroke="#4a4a4a" stroke-width="1.6"/>
<line x1="86.10" y1="297.50" x2="141.00" y2="297.50" stroke="#141414" stroke-width="1.5"/>
<path d="M109.90,286.15L109.90,291.25M107.69,287.43L112.11,289.97M112.11,287.43L107.69,289.97" stroke="#141414" stroke-width="1.15" fill="none"/>
<path d="M116.50,286.15L116.50,291.25M114.29,287.43L118.71,289.97M118.71,287.43L114.29,289.97" stroke="#141414" stroke-width="1.15" fill="none"/>
<line x1="86.10" y1="317.50" x2="113.70" y2="317.50" stroke="#141414" stroke-width="1.5"/>
<path d="M93.10,307.05L93.10,312.15M90.89,308.33L95.31,310.88M95.31,308.33L90.89,310.88" stroke="#141414" stroke-width="1.15" fill="none"/>
<path d="M99.70,307.05L99.70,312.15M97.49,308.33L101.91,310.88M101.91,308.33L97.49,310.88" stroke="#141414" stroke-width="1.15" fill="none"/>
<path d="M106.30,307.05L106.30,312.15M104.09,308.33L108.51,310.88M108.51,308.33L104.09,310.88" stroke="#141414" stroke-width="1.15" fill="none"/>
<line x1="114.00" y1="333.50" x2="141.00" y2="333.50" stroke="#141414" stroke-width="1.5"/>
<text transform="translate(127.10,317.80) scale(0.93,1)" font-size="10.3" text-anchor="middle" font-weight="normal" fill="#1b1b1b" stroke="#1b1b1b" stroke-width="0.18">n</text>
<text transform="translate(127.10,328.00) scale(0.93,1)" font-size="10.3" text-anchor="middle" font-weight="normal" fill="#1b1b1b" stroke="#1b1b1b" stroke-width="0.18">s</text>
<line x1="187.30" y1="263.50" x2="241.90" y2="263.50" stroke="#141414" stroke-width="1.5"/>
<path d="M211.10,252.85L211.10,257.95M208.89,254.12L213.31,256.68M213.31,254.12L208.89,256.68" stroke="#141414" stroke-width="1.15" fill="none"/>
<path d="M217.30,252.85L217.30,257.95M215.09,254.12L219.51,256.68M219.51,254.12L215.09,256.68" stroke="#141414" stroke-width="1.15" fill="none"/>
<line x1="187.30" y1="282.50" x2="214.60" y2="282.50" stroke="#141414" stroke-width="1.5"/>
<path d="M194.20,271.85L194.20,276.95M191.99,273.12L196.41,275.67M196.41,273.12L191.99,275.67" stroke="#141414" stroke-width="1.15" fill="none"/>
<path d="M200.80,271.85L200.80,276.95M198.59,273.12L203.01,275.67M203.01,273.12L198.59,275.67" stroke="#141414" stroke-width="1.15" fill="none"/>
<path d="M207.40,271.85L207.40,276.95M205.19,273.12L209.61,275.67M209.61,273.12L205.19,275.67" stroke="#141414" stroke-width="1.15" fill="none"/>
<line x1="215.20" y1="302.50" x2="241.70" y2="302.50" stroke="#141414" stroke-width="1.5"/>
<text transform="translate(228.30,297.40) scale(0.93,1)" font-size="10.3" text-anchor="middle" font-weight="normal" fill="#1b1b1b" stroke="#1b1b1b" stroke-width="0.18">ns</text>
<rect x="279.70" y="254.60" width="12.6" height="5.6" fill="#4aa489" stroke="#141414" stroke-width="1.2"/>
<text transform="translate(301.40,261.80) scale(0.97,1)" font-size="11.7" text-anchor="start" font-weight="normal" fill="#1b1b1b" stroke="#1b1b1b" stroke-width="0.18">CON</text>
<rect x="279.70" y="270.10" width="12.6" height="5.6" fill="#ebdabe" stroke="#141414" stroke-width="1.2"/>
<text transform="translate(301.40,277.30) scale(0.97,1)" font-size="11.7" text-anchor="start" font-weight="normal" fill="#1b1b1b" stroke="#1b1b1b" stroke-width="0.18">HA</text>
<rect x="279.70" y="285.60" width="12.6" height="5.6" fill="#e7b967" stroke="#141414" stroke-width="1.2"/>
<text transform="translate(301.40,292.80) scale(0.97,1)" font-size="11.7" text-anchor="start" font-weight="normal" fill="#1b1b1b" stroke="#1b1b1b" stroke-width="0.18">HAP</text>
<text transform="translate(113.80,396.70)" font-size="10.0" text-anchor="middle" font-weight="normal" fill="#1b1b1b" stroke="#1b1b1b" stroke-width="0.18">Hippocampus</text>
<text transform="translate(108.50,409.90) scale(1.07,1)" font-size="8.8" text-anchor="middle" font-weight="normal" fill="#1b1b1b" stroke="#1b1b1b" stroke-width="0.18">(U/mg prot)</text>
<text transform="translate(214.60,396.30)" font-size="10.0" text-anchor="middle" font-weight="normal" fill="#1b1b1b" stroke="#1b1b1b" stroke-width="0.18">Serum</text>
<text transform="translate(212.50,409.90) scale(1.07,1)" font-size="8.8" text-anchor="middle" font-weight="normal" fill="#1b1b1b" stroke="#1b1b1b" stroke-width="0.18">(U/ml)</text>
<text transform="translate(34.40,316.30) rotate(-90) scale(0.99,1)" font-size="11.2" text-anchor="middle" font-weight="normal" fill="#1b1b1b" stroke="#1b1b1b" stroke-width="0.18">GSH-Px activity</text>
<text transform="translate(360.30,247.90)" font-size="17.5" text-anchor="start" font-weight="bold" fill="#1b1b1b" stroke="#1b1b1b" stroke-width="0">D</text>
<line x1="397.50" y1="251.10" x2="397.50" y2="314.00" stroke="#141414" stroke-width="1.5"/>
<line x1="393.70" y1="313.50" x2="400.80" y2="313.50" stroke="#141414" stroke-width="1.5"/>
<line x1="397.50" y1="323.10" x2="397.50" y2="385.40" stroke="#141414" stroke-width="1.5"/>
<line x1="393.70" y1="323.50" x2="400.80" y2="323.50" stroke="#141414" stroke-width="1.5"/>
<line x1="393.40" y1="251.50" x2="397.00" y2="251.50" stroke="#141414" stroke-width="1.5"/>
<line x1="393.40" y1="267.50" x2="397.00" y2="267.50" stroke="#141414" stroke-width="1.5"/>
<line x1="393.40" y1="282.50" x2="397.00" y2="282.50" stroke="#141414" stroke-width="1.5"/>
<line x1="393.40" y1="298.50" x2="397.00" y2="298.50" stroke="#141414" stroke-width="1.5"/>
<line x1="393.40" y1="313.50" x2="397.00" y2="313.50" stroke="#141414" stroke-width="1.5"/>
<line x1="393.40" y1="323.50" x2="397.00" y2="323.50" stroke="#141414" stroke-width="1.5"/>
<line x1="393.40" y1="335.50" x2="397.00" y2="335.50" stroke="#141414" stroke-width="1.5"/>
<line x1="393.40" y1="348.50" x2="397.00" y2="348.50" stroke="#141414" stroke-width="1.5"/>
<line x1="393.40" y1="360.50" x2="397.00" y2="360.50" stroke="#141414" stroke-width="1.5"/>
<line x1="393.40" y1="372.50" x2="397.00" y2="372.50" stroke="#141414" stroke-width="1.5"/>
<line x1="393.40" y1="384.50" x2="397.00" y2="384.50" stroke="#141414" stroke-width="1.5"/>
<text transform="translate(391.70,254.95) scale(0.99,1)" font-size="10.3" text-anchor="end" font-weight="normal" fill="#1b1b1b" stroke="#1b1b1b" stroke-width="0.18">50</text>
<text transform="translate(391.70,270.45) scale(0.99,1)" font-size="10.3" text-anchor="end" font-weight="normal" fill="#1b1b1b" stroke="#1b1b1b" stroke-width="0.18">40</text>
<text transform="translate(391.70,286.05) scale(0.99,1)" font-size="10.3" text-anchor="end" font-weight="normal" fill="#1b1b1b" stroke="#1b1b1b" stroke-width="0.18">30</text>
<text transform="translate(391.70,301.55) scale(0.99,1)" font-size="10.3" text-anchor="end" font-weight="normal" fill="#1b1b1b" stroke="#1b1b1b" stroke-width="0.18">20</text>
<text transform="translate(391.70,316.65) scale(0.99,1)" font-size="10.3" text-anchor="end" font-weight="normal" fill="#1b1b1b" stroke="#1b1b1b" stroke-width="0.18">10</text>
<text transform="translate(391.70,326.95) scale(0.99,1)" font-size="10.3" text-anchor="end" font-weight="normal" fill="#1b1b1b" stroke="#1b1b1b" stroke-width="0.18">5</text>
<text transform="translate(391.70,339.15) scale(0.99,1)" font-size="10.3" text-anchor="end" font-weight="normal" fill="#1b1b1b" stroke="#1b1b1b" stroke-width="0.18">4</text>
<text transform="translate(391.70,351.45) scale(0.99,1)" font-size="10.3" text-anchor="end" font-weight="normal" fill="#1b1b1b" stroke="#1b1b1b" stroke-width="0.18">3</text>
<text transform="translate(391.70,363.65) scale(0.99,1)" font-size="10.3" text-anchor="end" font-weight="normal" fill="#1b1b1b" stroke="#1b1b1b" stroke-width="0.18">2</text>
<text transform="translate(391.70,375.85) scale(0.99,1)" font-size="10.3" text-anchor="end" font-weight="normal" fill="#1b1b1b" stroke="#1b1b1b" stroke-width="0.18">1</text>
<text transform="translate(391.70,388.05) scale(0.99,1)" font-size="10.3" text-anchor="end" font-weight="normal" fill="#1b1b1b" stroke="#1b1b1b" stroke-width="0.18">0</text>
<line x1="446.50" y1="384.80" x2="446.50" y2="388.60" stroke="#141414" stroke-width="1.1"/>
<line x1="546.50" y1="384.80" x2="546.50" y2="388.60" stroke="#141414" stroke-width="1.1"/>
<rect x="411.50" y="359.50" width="17.00" height="25.00" fill="#4aa489"/>
<line x1="411.50" y1="359.50" x2="411.50" y2="384.50" stroke="#141414" stroke-width="1.5"/>
<line x1="428.50" y1="359.50" x2="428.50" y2="384.50" stroke="#141414" stroke-width="1.5"/>
<line x1="410.75" y1="359.50" x2="429.25" y2="359.50" stroke="#141414" stroke-width="1.5"/>
<circle cx="419.40" cy="351.80" r="1.35" fill="#409b7f" stroke="#1c1c1c" stroke-width="0.8"/>
<circle cx="414.20" cy="358.90" r="1.35" fill="#409b7f" stroke="#1c1c1c" stroke-width="0.8"/>
<circle cx="424.80" cy="357.40" r="1.35" fill="#409b7f" stroke="#1c1c1c" stroke-width="0.8"/>
<circle cx="419.40" cy="360.30" r="1.35" fill="#409b7f" stroke="#1c1c1c" stroke-width="0.8"/>
<circle cx="424.80" cy="360.50" r="1.35" fill="#409b7f" stroke="#1c1c1c" stroke-width="0.8"/>
<circle cx="419.40" cy="364.20" r="1.35" fill="#409b7f" stroke="#1c1c1c" stroke-width="0.8"/>
<line x1="419.90" y1="359.50" x2="419.90" y2="354.70" stroke="#141414" stroke-width="1.6"/>
<line x1="415.40" y1="354.50" x2="424.40" y2="354.50" stroke="#141414" stroke-width="1.5"/>
<rect x="438.50" y="370.50" width="17.00" height="14.00" fill="#ebdabe"/>
<line x1="438.50" y1="370.50" x2="438.50" y2="384.50" stroke="#141414" stroke-width="1.5"/>
<line x1="455.50" y1="370.50" x2="455.50" y2="384.50" stroke="#141414" stroke-width="1.5"/>
<line x1="437.75" y1="370.50" x2="456.25" y2="370.50" stroke="#141414" stroke-width="1.5"/>
<circle cx="446.50" cy="366.70" r="1.35" fill="#ead8b8" stroke="#1c1c1c" stroke-width="0.8"/>
<circle cx="439.00" cy="371.70" r="1.35" fill="#ead8b8" stroke="#1c1c1c" stroke-width="0.8"/>
<circle cx="444.00" cy="371.00" r="1.35" fill="#ead8b8" stroke="#1c1c1c" stroke-width="0.8"/>
<circle cx="449.60" cy="371.00" r="1.35" fill="#ead8b8" stroke="#1c1c1c" stroke-width="0.8"/>
<circle cx="454.60" cy="370.40" r="1.35" fill="#ead8b8" stroke="#1c1c1c" stroke-width="0.8"/>
<line x1="447.00" y1="370.50" x2="447.00" y2="368.00" stroke="#141414" stroke-width="1.6"/>
<line x1="442.50" y1="368.50" x2="451.50" y2="368.50" stroke="#141414" stroke-width="1.5"/>
<rect x="465.50" y="365.50" width="18.00" height="19.00" fill="#e7b967"/>
<line x1="465.50" y1="365.50" x2="465.50" y2="384.50" stroke="#141414" stroke-width="1.5"/>
<line x1="483.50" y1="365.50" x2="483.50" y2="384.50" stroke="#141414" stroke-width="1.5"/>
<line x1="464.75" y1="365.50" x2="484.25" y2="365.50" stroke="#141414" stroke-width="1.5"/>
<circle cx="471.30" cy="359.60" r="1.35" fill="#e2b35c" stroke="#1c1c1c" stroke-width="0.8"/>
<circle cx="476.30" cy="361.70" r="1.35" fill="#e2b35c" stroke="#1c1c1c" stroke-width="0.8"/>
<circle cx="471.30" cy="364.20" r="1.35" fill="#e2b35c" stroke="#1c1c1c" stroke-width="0.8"/>
<circle cx="476.90" cy="366.70" r="1.35" fill="#e2b35c" stroke="#1c1c1c" stroke-width="0.8"/>
<circle cx="473.20" cy="368.00" r="1.35" fill="#e2b35c" stroke="#1c1c1c" stroke-width="0.8"/>
<circle cx="473.80" cy="369.80" r="1.35" fill="#e2b35c" stroke="#1c1c1c" stroke-width="0.8"/>
<line x1="474.30" y1="365.50" x2="474.30" y2="361.10" stroke="#141414" stroke-width="1.6"/>
<line x1="469.80" y1="361.50" x2="478.80" y2="361.50" stroke="#141414" stroke-width="1.5"/>
<rect x="510.50" y="289.50" width="17.00" height="24.00" fill="#4aa489"/>
<rect x="510.50" y="324.00" width="17.00" height="60.50" fill="#4aa489"/>
<line x1="510.50" y1="289.50" x2="510.50" y2="313.50" stroke="#141414" stroke-width="1.5"/>
<line x1="527.50" y1="289.50" x2="527.50" y2="313.50" stroke="#141414" stroke-width="1.5"/>
<line x1="510.50" y1="324.00" x2="510.50" y2="384.50" stroke="#141414" stroke-width="1.5"/>
<line x1="527.50" y1="324.00" x2="527.50" y2="384.50" stroke="#141414" stroke-width="1.5"/>
<line x1="509.75" y1="289.50" x2="528.25" y2="289.50" stroke="#141414" stroke-width="1.5"/>
<circle cx="519.20" cy="274.70" r="1.35" fill="#409b7f" stroke="#1c1c1c" stroke-width="0.8"/>
<circle cx="518.90" cy="286.80" r="1.35" fill="#409b7f" stroke="#1c1c1c" stroke-width="0.8"/>
<circle cx="518.90" cy="289.30" r="1.35" fill="#409b7f" stroke="#1c1c1c" stroke-width="0.8"/>
<circle cx="516.10" cy="297.10" r="1.35" fill="#409b7f" stroke="#1c1c1c" stroke-width="0.8"/>
<circle cx="521.70" cy="296.10" r="1.35" fill="#409b7f" stroke="#1c1c1c" stroke-width="0.8"/>
<line x1="519.00" y1="289.50" x2="519.00" y2="280.80" stroke="#141414" stroke-width="1.6"/>
<line x1="514.50" y1="280.50" x2="523.50" y2="280.50" stroke="#141414" stroke-width="1.5"/>
<rect x="537.50" y="305.50" width="18.00" height="8.00" fill="#ebdabe"/>
<rect x="537.50" y="324.00" width="18.00" height="60.50" fill="#ebdabe"/>
<line x1="537.50" y1="305.50" x2="537.50" y2="313.50" stroke="#141414" stroke-width="1.5"/>
<line x1="555.50" y1="305.50" x2="555.50" y2="313.50" stroke="#141414" stroke-width="1.5"/>
<line x1="537.50" y1="324.00" x2="537.50" y2="384.50" stroke="#141414" stroke-width="1.5"/>
<line x1="555.50" y1="324.00" x2="555.50" y2="384.50" stroke="#141414" stroke-width="1.5"/>
<line x1="536.75" y1="305.50" x2="556.25" y2="305.50" stroke="#141414" stroke-width="1.5"/>
<circle cx="540.90" cy="298.00" r="1.35" fill="#ead8b8" stroke="#1c1c1c" stroke-width="0.8"/>
<circle cx="546.50" cy="299.20" r="1.35" fill="#ead8b8" stroke="#1c1c1c" stroke-width="0.8"/>
<circle cx="540.90" cy="308.50" r="1.35" fill="#ead8b8" stroke="#1c1c1c" stroke-width="0.8"/>
<circle cx="546.50" cy="307.30" r="1.35" fill="#ead8b8" stroke="#1c1c1c" stroke-width="0.8"/>
<circle cx="551.90" cy="308.30" r="1.35" fill="#ead8b8" stroke="#1c1c1c" stroke-width="0.8"/>
<line x1="546.30" y1="305.50" x2="546.30" y2="299.80" stroke="#141414" stroke-width="1.6"/>
<line x1="541.80" y1="299.50" x2="550.80" y2="299.50" stroke="#141414" stroke-width="1.5"/>
<rect x="564.50" y="296.50" width="18.00" height="17.00" fill="#e7b967"/>
<rect x="564.50" y="324.00" width="18.00" height="60.50" fill="#e7b967"/>
<line x1="564.50" y1="296.50" x2="564.50" y2="313.50" stroke="#141414" stroke-width="1.5"/>
<line x1="582.50" y1="296.50" x2="582.50" y2="313.50" stroke="#141414" stroke-width="1.5"/>
<line x1="564.50" y1="324.00" x2="564.50" y2="384.50" stroke="#141414" stroke-width="1.5"/>
<line x1="582.50" y1="324.00" x2="582.50" y2="384.50" stroke="#141414" stroke-width="1.5"/>
<line x1="563.75" y1="296.50" x2="583.25" y2="296.50" stroke="#141414" stroke-width="1.5"/>
<circle cx="573.40" cy="285.90" r="1.35" fill="#e2b35c" stroke="#1c1c1c" stroke-width="0.8"/>
<circle cx="570.70" cy="294.20" r="1.35" fill="#e2b35c" stroke="#1c1c1c" stroke-width="0.8"/>
<circle cx="575.70" cy="298.00" r="1.35" fill="#e2b35c" stroke="#1c1c1c" stroke-width="0.8"/>
<circle cx="570.70" cy="299.20" r="1.35" fill="#e2b35c" stroke="#1c1c1c" stroke-width="0.8"/>
<circle cx="570.70" cy="301.70" r="1.35" fill="#e2b35c" stroke="#1c1c1c" stroke-width="0.8"/>
<line x1="573.30" y1="296.50" x2="573.30" y2="290.50" stroke="#141414" stroke-width="1.6"/>
<line x1="568.80" y1="290.50" x2="577.80" y2="290.50" stroke="#141414" stroke-width="1.5"/>
<line x1="393.20" y1="384.50" x2="596.90" y2="384.50" stroke="#4a4a4a" stroke-width="1.6"/>
<line x1="419.90" y1="325.50" x2="473.90" y2="325.50" stroke="#141414" stroke-width="1.5"/>
<path d="M443.40,314.85L443.40,319.95M441.19,316.12L445.61,318.67M445.61,316.12L441.19,318.67" stroke="#141414" stroke-width="1.15" fill="none"/>
<path d="M449.60,314.85L449.60,319.95M447.39,316.12L451.81,318.67M451.81,316.12L447.39,318.67" stroke="#141414" stroke-width="1.15" fill="none"/>
<line x1="419.90" y1="342.50" x2="446.60" y2="342.50" stroke="#141414" stroke-width="1.5"/>
<path d="M426.40,331.25L426.40,336.35M424.19,332.53L428.61,335.07M428.61,332.53L424.19,335.07" stroke="#141414" stroke-width="1.15" fill="none"/>
<path d="M432.90,331.25L432.90,336.35M430.69,332.53L435.11,335.07M435.11,332.53L430.69,335.07" stroke="#141414" stroke-width="1.15" fill="none"/>
<path d="M439.40,331.25L439.40,336.35M437.19,332.53L441.61,335.07M441.61,332.53L437.19,335.07" stroke="#141414" stroke-width="1.15" fill="none"/>
<line x1="447.20" y1="350.50" x2="473.90" y2="350.50" stroke="#141414" stroke-width="1.5"/>
<path d="M460.50,338.85L460.50,343.95M458.29,340.12L462.71,342.67M462.71,340.12L458.29,342.67" stroke="#141414" stroke-width="1.15" fill="none"/>
<line x1="519.20" y1="259.50" x2="573.20" y2="259.50" stroke="#141414" stroke-width="1.5"/>
<text transform="translate(546.20,253.60) scale(0.93,1)" font-size="10.3" text-anchor="middle" font-weight="normal" fill="#1b1b1b" stroke="#1b1b1b" stroke-width="0.18">ns</text>
<line x1="519.20" y1="274.50" x2="546.20" y2="274.50" stroke="#141414" stroke-width="1.5"/>
<path d="M526.00,263.55L526.00,268.65M523.79,264.83L528.21,267.38M528.21,264.83L523.79,267.38" stroke="#141414" stroke-width="1.15" fill="none"/>
<path d="M532.60,263.55L532.60,268.65M530.39,264.83L534.81,267.38M534.81,264.83L530.39,267.38" stroke="#141414" stroke-width="1.15" fill="none"/>
<path d="M539.20,263.55L539.20,268.65M536.99,264.83L541.41,267.38M541.41,264.83L536.99,267.38" stroke="#141414" stroke-width="1.15" fill="none"/>
<line x1="546.50" y1="285.50" x2="573.20" y2="285.50" stroke="#141414" stroke-width="1.5"/>
<path d="M559.60,274.25L559.60,279.35M557.39,275.53L561.81,278.07M561.81,275.53L557.39,278.07" stroke="#141414" stroke-width="1.15" fill="none"/>
<rect x="610.70" y="258.80" width="12.6" height="5.6" fill="#4aa489" stroke="#141414" stroke-width="1.2"/>
<text transform="translate(632.20,266.00) scale(0.97,1)" font-size="11.7" text-anchor="start" font-weight="normal" fill="#1b1b1b" stroke="#1b1b1b" stroke-width="0.18">CON</text>
<rect x="610.70" y="274.10" width="12.6" height="5.6" fill="#ebdabe" stroke="#141414" stroke-width="1.2"/>
<text transform="translate(632.20,281.30) scale(0.97,1)" font-size="11.7" text-anchor="start" font-weight="normal" fill="#1b1b1b" stroke="#1b1b1b" stroke-width="0.18">HA</text>
<rect x="610.70" y="289.40" width="12.6" height="5.6" fill="#e7b967" stroke="#141414" stroke-width="1.2"/>
<text transform="translate(632.20,296.60) scale(0.97,1)" font-size="11.7" text-anchor="start" font-weight="normal" fill="#1b1b1b" stroke="#1b1b1b" stroke-width="0.18">HAP</text>
<text transform="translate(446.60,398.40)" font-size="10.0" text-anchor="middle" font-weight="normal" fill="#1b1b1b" stroke="#1b1b1b" stroke-width="0.18">Hippocampus</text>
<text transform="translate(441.50,412.10) scale(1.07,1)" font-size="8.8" text-anchor="middle" font-weight="normal" fill="#1b1b1b" stroke="#1b1b1b" stroke-width="0.18">(U/mg prot)</text>
<text transform="translate(546.00,398.40)" font-size="10.0" text-anchor="middle" font-weight="normal" fill="#1b1b1b" stroke="#1b1b1b" stroke-width="0.18">Serum</text>
<text transform="translate(544.20,412.10) scale(1.07,1)" font-size="8.8" text-anchor="middle" font-weight="normal" fill="#1b1b1b" stroke="#1b1b1b" stroke-width="0.18">(U/ml)</text>
<text transform="translate(374.60,318.80) rotate(-90) scale(0.98,1)" font-size="11.0" text-anchor="middle" font-weight="normal" fill="#1b1b1b" stroke="#1b1b1b" stroke-width="0.18">SOD activity</text>
</svg></body></html>
